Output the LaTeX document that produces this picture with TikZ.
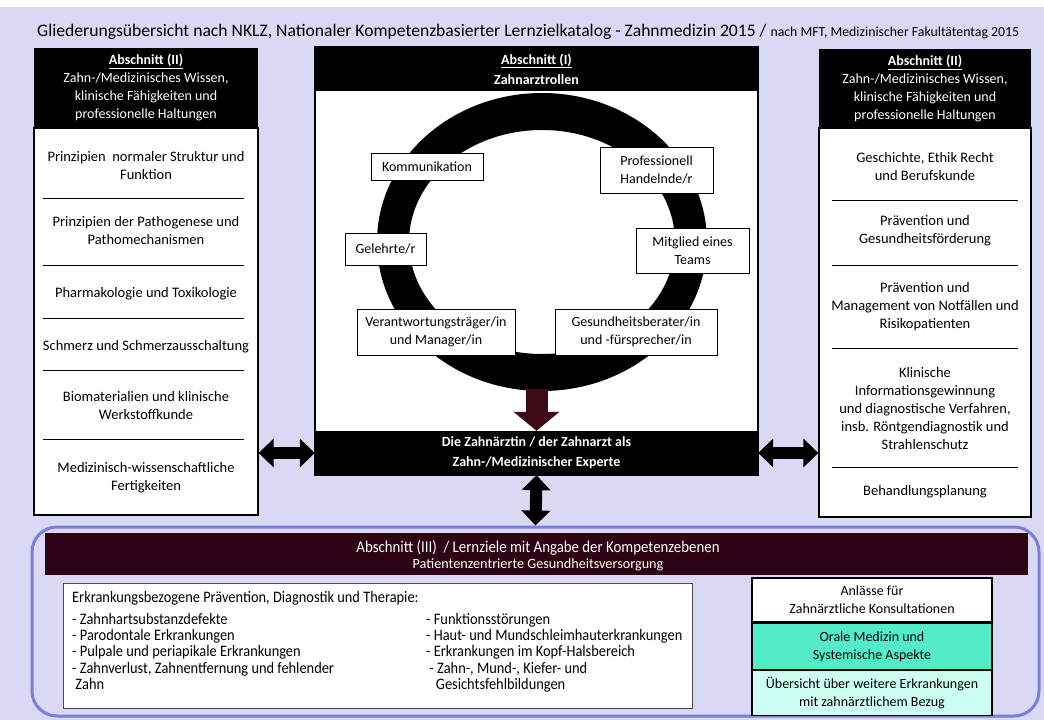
\documentclass[tikz,border=0pt]{standalone}
\usepackage{fontspec}
\setmainfont{Carlito}
\newfontfamily\condfont[FakeStretch=0.9]{Carlito}
\usetikzlibrary{arrows.meta,positioning}

\definecolor{lavbg}{RGB}{217,217,245}
\definecolor{secframe}{RGB}{125,125,222}
\definecolor{maroonbar}{RGB}{46,4,20}
\definecolor{maroonarrow}{RGB}{62,12,22}
\definecolor{oralgreen}{RGB}{84,235,200}
\definecolor{paleaqua}{RGB}{205,255,240}

\newcommand{\itemfont}{\fontsize{14.5}{18}\selectfont}
\newcommand{\hdrfont}{\fontsize{14}{18}\selectfont}
\newcommand{\listfont}{\condfont\fontsize{16}{16.3}\selectfont}

\tikzset{
  hdr/.style={fill=black, text=white, align=center, font=\hdrfont, inner sep=0pt},
  colbox/.style={draw=black, line width=1.3pt, fill=white},
  item/.style={align=center, font=\itemfont, inner sep=0pt},
  role/.style={draw=black, line width=1pt, fill=white, align=center, font=\hdrfont, inner sep=0pt},
  sepline/.style={line width=0.9pt},
  dblarrow/.style={line width=12pt, {Triangle[width=28pt,length=15pt]}-{Triangle[width=28pt,length=15pt]}},
  downarrow/.style={line width=22pt, maroonarrow, -{Triangle[width=45pt,length=19pt]}},
  sidebox/.style={draw=black, line width=1.3pt, align=center, font=\hdrfont, minimum width=240pt, inner sep=0pt},
}

\begin{document}
\begin{tikzpicture}[x=1pt,y=-1pt]
\fill[white] (0,0) rectangle (1044,720);
\fill[lavbg] (0,7) rectangle (1044,720);
\useasboundingbox (0,0) rectangle (1044,720);

% title
\node[anchor=base west, inner sep=0pt] (title) at (37,36) {\fontsize{17.6}{18}\selectfont Gliederungsübersicht nach NKLZ, Nationaler Kompetenzbasierter Lernzielkatalog - Zahnmedizin 2015 / \fontsize{13.8}{14}\selectfont nach MFT, Medizinischer Fakultätentag 2015};

% Abschnitt II (links)
\node[colbox, minimum width=224pt, minimum height=387pt] (lbody) at (146,321.5) {};
\node[hdr, minimum width=224pt, minimum height=80pt] (lhead) at (146,88) {\underline{\textbf{Abschnitt (II)}}\\Zahn-/Medizinisches Wissen,\\klinische Fähigkeiten und\\professionelle Haltungen};
\node[item] (l1) at (146,166) {Prinzipien\ \ normaler Struktur und\\Funktion};
\node[item] (l2) at (146,231) {Prinzipien der Pathogenese und\\Pathomechanismen};
\node[item] (l3) at (146,294) {Pharmakologie und Toxikologie};
\node[item] (l4) at (146,347) {Schmerz und Schmerzausschaltung};
\node[item] (l5) at (146,406) {Biomaterialien und klinische\\Werkstoffkunde};
\node[item] (l6) at (146,478) {Medizinisch-wissenschaftliche\\Fertigkeiten};
\foreach \y in {198,265,318,370,439}
  \draw[sepline] (43,\y) -- (244,\y);

% Abschnitt II (rechts)
\node[colbox, minimum width=212pt, minimum height=389pt] (rbody) at (925,322.5) {};
\node[hdr, minimum width=212pt, minimum height=79pt] (rhead) at (925,88.5) {\underline{\textbf{Abschnitt (II)}}\\Zahn-/Medizinisches Wissen,\\klinische Fähigkeiten und\\professionelle Haltungen};
\node[item] (r1) at (925,166.5) {Geschichte, Ethik Recht\\und Berufskunde};
\node[item] (r2) at (925,231) {Prävention und\\Gesundheitsförderung};
\node[item] (r3) at (925,307) {Prävention und\\Management von Notfällen und\\Risikopatienten};
\node[item] (r4) at (925,409) {Klinische\\Informationsgewinnung\\und diagnostische Verfahren,\\insb. Röntgendiagnostik und\\Strahlenschutz};
\node[item] (r5) at (925,492) {Behandlungsplanung};
\foreach \y in {200,265,348,467}
  \draw[sepline] (832,\y) -- (1018,\y);

% Abschnitt I (Mitte)
\node[colbox, minimum width=443pt, minimum height=428pt] (cframe) at (536.5,261) {};
\node[hdr, minimum width=443pt, minimum height=44pt] (chead) at (536.5,69) {\underline{\textbf{Abschnitt (I)}}\\[2pt]\textbf{Zahnarztrollen}};
\node[hdr, minimum width=443pt, minimum height=44pt] (expert) at (536.5,453) {\textbf{Die Zahnärztin / der Zahnarzt als}\\[2pt]\textbf{Zahn-/Medizinischer Experte}};

% Ring
\fill[black, even odd rule] (542,242) ellipse [x radius=165pt, y radius=149pt]
  (542,242) ellipse [x radius=133pt, y radius=112pt];
\node[role, minimum width=112pt, minimum height=27pt] (kommu) at (427,166.5) {Kommunikation};
\node[role, minimum width=113pt, minimum height=46pt] (profi) at (656.5,170) {Professionell\\Handelnde/r};
\node[role, minimum width=81pt, minimum height=32pt] (gelehrt) at (385.5,249) {Gelehrte/r};
\node[role, minimum width=113pt, minimum height=45pt] (team) at (692.5,250.5) {Mitglied eines\\Teams};
\node[role, minimum width=158pt, minimum height=46pt] (verant) at (436,332) {Verantwortungsträger/in\\und Manager/in};
\node[role, minimum width=162pt, minimum height=46pt] (gesund) at (636,332) {Gesundheitsberater/in\\und -fürsprecher/in};

\coordinate (ringbot) at (536.5,389);
\draw[downarrow] (ringbot) -- (expert.north);

% Abschnitt III
\node[draw=secframe, line width=3pt, rounded corners=25pt, fill=lavbg, minimum width=1007pt, minimum height=189pt] (sec3) at (535.5,621.5) {};
\node[fill=maroonbar, minimum width=983pt, minimum height=42pt, inner sep=0pt] (bar) at (536.5,554) {};
\node[text=white, inner sep=0pt, font=\condfont\fontsize{16.5}{17}\selectfont] (bartop) at (538,548) {Abschnitt (III)\ \ /\ Lernziele mit Angabe der Kompetenzebenen};
\node[text=white, inner sep=0pt, font=\fontsize{14.2}{16}\selectfont] (barsub) at (538,565) {Patientenzentrierte Gesundheitsversorgung};

\node[draw=black!70, line width=1pt, fill=white, minimum width=629pt, minimum height=125pt] (dlist) at (377.5,645.5) {};
\node[anchor=base west, inner sep=0pt, font=\listfont] (dhead) at (72,602) {Erkrankungsbezogene Prävention, Diagnostik und Therapie:};
\node[anchor=north west, inner sep=0pt, align=left, font=\listfont] (dleft) at (72,613) {- Zahnhartsubstanzdefekte\\- Parodontale Erkrankungen\\- Pulpale und periapikale Erkrankungen\\- Zahnverlust, Zahnentfernung und fehlender\\\ Zahn};
\node[anchor=north west, inner sep=0pt, align=left, font=\listfont] (dright) at (426,613) {- Funktionsstörungen\\- Haut- und Mundschleimhauterkrankungen\\- Erkrankungen im Kopf-Halsbereich\\\ - Zahn-, Mund-, Kiefer- und\\\ \ \ Gesichtsfehlbildungen};

\node[sidebox, fill=white, minimum height=44pt] (anlass) at (872,600) {Anlässe für\\Zahnärztliche Konsultationen};
\node[sidebox, fill=oralgreen, minimum height=46pt, below=0pt of anlass] (orale) {Orale Medizin und\\Systemische Aspekte};
\node[sidebox, fill=paleaqua, minimum height=45pt, below=0pt of orale] (weitere) {Übersicht über weitere Erkrankungen\\mit zahnärztlichem Bezug};

% Pfeile
\draw[dblarrow] (lbody.east |- expert.center) -- (expert.west);
\draw[dblarrow] (expert.east) -- (rbody.west |- expert.center);
\draw[dblarrow] (expert.south) -- (sec3.north);
\end{tikzpicture}
\end{document}
